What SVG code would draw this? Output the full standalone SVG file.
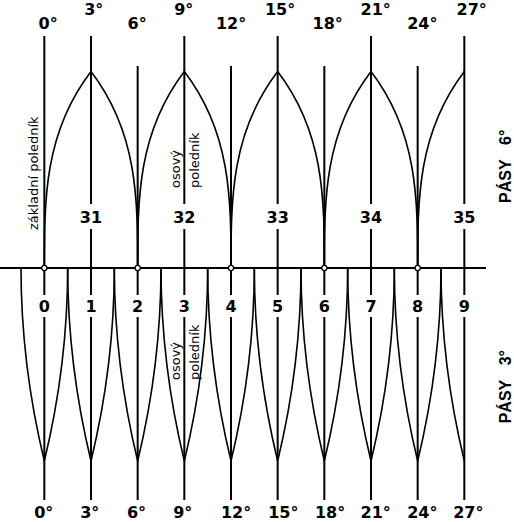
<svg xmlns="http://www.w3.org/2000/svg" width="514" height="522" viewBox="0 0 514 522">
<style>
.bg{fill:#fff}
.mer{stroke:#000;stroke-width:2;fill:none}
.ax{stroke:#000;stroke-width:2.2;fill:none}
.gore{stroke:#000;stroke-width:1.6;fill:none}
.dot{fill:#fff;stroke:#000;stroke-width:1.2}
.deg{font-family:"DejaVu Sans",sans-serif;font-weight:bold;font-size:16px;fill:#000}
.num{font-family:"DejaVu Sans",sans-serif;font-weight:bold;font-size:16px;fill:#000;text-anchor:middle}
.lab{font-family:"DejaVu Sans",sans-serif;font-size:13px;fill:#000}
.pas{font-family:"Liberation Sans",Arial,sans-serif;font-weight:bold;font-size:16px;fill:#000}
</style>
<rect class="bg" x="0" y="0" width="514" height="522"/>
<g id="connectors">
  <path class="mer" d="M44.33,36V295M44.33,317V500"/>
  <path class="mer" d="M91,36V204M91,229V295M91,317V500"/>
  <path class="mer" d="M137.67,66V295M137.67,317V500"/>
  <path class="mer" d="M184.33,36V204M184.33,229V295M184.33,317V500"/>
  <path class="mer" d="M231,66V295M231,317V500"/>
  <path class="mer" d="M277.67,36V204M277.67,229V295M277.67,317V500"/>
  <path class="mer" d="M324.33,66V295M324.33,317V500"/>
  <path class="mer" d="M371,36V204M371,229V295M371,317V500"/>
  <path class="mer" d="M417.67,66V295M417.67,317V500"/>
  <path class="mer" d="M464.33,36V204M464.33,229V295M464.33,317V500"/>
  <path class="ax" d="M0,268H486"/>
  <path class="gore" d="M91,71.5C44.33,132.5 44.33,199 44.33,268M91,71.5C137.67,132.5 137.67,199 137.67,268"/>
  <path class="gore" d="M184.33,71.5C137.67,132.5 137.67,199 137.67,268M184.33,71.5C231,132.5 231,199 231,268"/>
  <path class="gore" d="M277.67,71.5C231,132.5 231,199 231,268M277.67,71.5C324.33,132.5 324.33,199 324.33,268"/>
  <path class="gore" d="M371,71.5C324.33,132.5 324.33,199 324.33,268M371,71.5C417.67,132.5 417.67,199 417.67,268"/>
  <path class="gore" d="M464.33,71.5C417.67,132.5 417.67,199 417.67,268"/>
  <path class="gore" d="M44.33,461Q21,364.5 21,268M44.33,461Q67.67,364.5 67.67,268"/>
  <path class="gore" d="M91,461Q67.67,364.5 67.67,268M91,461Q114.33,364.5 114.33,268"/>
  <path class="gore" d="M137.67,461Q114.33,364.5 114.33,268M137.67,461Q161,364.5 161,268"/>
  <path class="gore" d="M184.33,461Q161,364.5 161,268M184.33,461Q207.67,364.5 207.67,268"/>
  <path class="gore" d="M231,461Q207.67,364.5 207.67,268M231,461Q254.33,364.5 254.33,268"/>
  <path class="gore" d="M277.67,461Q254.33,364.5 254.33,268M277.67,461Q301,364.5 301,268"/>
  <path class="gore" d="M324.33,461Q301,364.5 301,268M324.33,461Q347.67,364.5 347.67,268"/>
  <path class="gore" d="M371,461Q347.67,364.5 347.67,268M371,461Q394.33,364.5 394.33,268"/>
  <path class="gore" d="M417.67,461Q394.33,364.5 394.33,268M417.67,461Q441,364.5 441,268"/>
  <path class="gore" d="M464.33,461Q441,364.5 441,268"/>
  <circle class="dot" cx="44.33" cy="268" r="2.6"/>
  <circle class="dot" cx="137.67" cy="268" r="2.6"/>
  <circle class="dot" cx="231" cy="268" r="2.6"/>
  <circle class="dot" cx="324.33" cy="268" r="2.6"/>
  <circle class="dot" cx="417.67" cy="268" r="2.6"/>
</g>
<g id="top-degrees">
  <text class="deg" x="38.5" y="29.3">0°</text>
  <text class="deg" x="84.2" y="15">3°</text>
  <text class="deg" x="127.5" y="29.3">6°</text>
  <text class="deg" x="174.2" y="15">9°</text>
  <text class="deg" x="215.9" y="29.3">12°</text>
  <text class="deg" x="264.9" y="15">15°</text>
  <text class="deg" x="312.5" y="29.3">18°</text>
  <text class="deg" x="360.5" y="15">21°</text>
  <text class="deg" x="407.2" y="29.3">24°</text>
  <text class="deg" x="456.5" y="15">27°</text>
</g>
<g id="zones-6">
  <text class="num" x="91" y="222.7">31</text>
  <text class="num" x="184.33" y="222.7">32</text>
  <text class="num" x="277.67" y="222.7">33</text>
  <text class="num" x="371" y="222.7">34</text>
  <text class="num" x="464.33" y="222.7">35</text>
</g>
<g id="zones-3">
  <text class="num" x="44.33" y="311.7">0</text>
  <text class="num" x="91" y="311.7">1</text>
  <text class="num" x="137.67" y="311.7">2</text>
  <text class="num" x="184.33" y="311.7">3</text>
  <text class="num" x="231" y="311.7">4</text>
  <text class="num" x="277.67" y="311.7">5</text>
  <text class="num" x="324.33" y="311.7">6</text>
  <text class="num" x="371" y="311.7">7</text>
  <text class="num" x="417.67" y="311.7">8</text>
  <text class="num" x="464.33" y="311.7">9</text>
</g>
<g id="bottom-degrees">
  <text class="deg" x="34.2" y="518.3">0°</text>
  <text class="deg" x="80.2" y="518.3">3°</text>
  <text class="deg" x="126.9" y="518.3">6°</text>
  <text class="deg" x="173.2" y="518.3">9°</text>
  <text class="deg" x="220.9" y="518.3">12°</text>
  <text class="deg" x="268.2" y="518.3">15°</text>
  <text class="deg" x="314.9" y="518.3">18°</text>
  <text class="deg" x="360.5" y="518.3">21°</text>
  <text class="deg" x="407.2" y="518.3">24°</text>
  <text class="deg" x="453.2" y="518.3">27°</text>
</g>
<g id="label-zakladni">
  <text class="lab" transform="translate(37.5,230) rotate(-90)">základní poledník</text>
</g>
<g id="label-osovy-top">
  <text class="lab" transform="translate(180,188) rotate(-90)">osový</text>
  <text class="lab" transform="translate(198.7,188) rotate(-90)">poledník</text>
</g>
<g id="label-osovy-bottom">
  <text class="lab" transform="translate(180,380) rotate(-90)">osový</text>
  <text class="lab" transform="translate(198.7,380) rotate(-90)">poledník</text>
</g>
<g id="label-pasy6">
  <text class="pas" transform="translate(510.5,203) rotate(-90)">PÁSY<tspan x="58">6°</tspan></text>
</g>
<g id="label-pasy3">
  <text class="pas" transform="translate(510.5,423.3) rotate(-90)">PÁSY<tspan x="58">3°</tspan></text>
</g>
</svg>
